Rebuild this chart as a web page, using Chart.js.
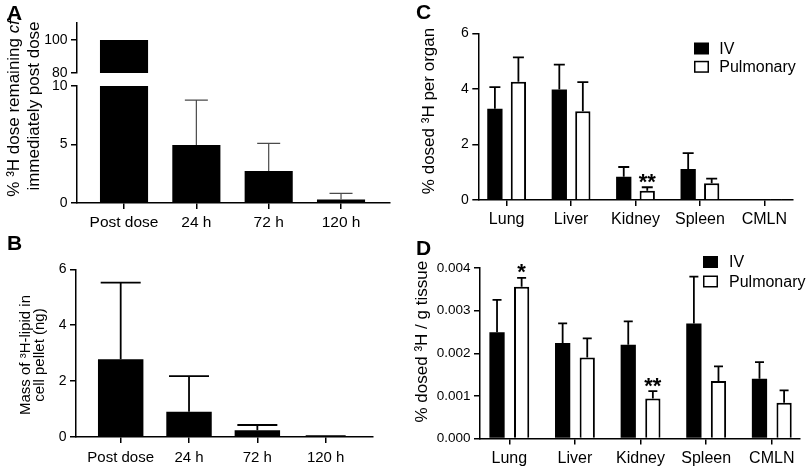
<!DOCTYPE html>
<html>
<head>
<meta charset="utf-8">
<script src="https://cdn.jsdelivr.net/npm/chart.js@4.4.0/dist/chart.umd.min.js"></script>
<style>
  html, body { margin: 0; padding: 0; background: #fff; }
  #fig { position: relative; width: 809px; height: 467px; overflow: hidden; font-family: "Liberation Sans", Arial, sans-serif; }
  #fig canvas { position: absolute; }
  .tag { position: absolute; font-weight: bold; font-size: 21px; line-height: 21px; color: #000; }
</style>
</head>
<body>
<div id="fig">
  <canvas id="chartAlower" width="400" height="230" style="left:0;top:0"></canvas>
  <canvas id="chartAupper" width="400" height="95" style="left:0;top:0"></canvas>
  <canvas id="chartB" width="400" height="237" style="left:0;top:230px"></canvas>
  <canvas id="chartC" width="409" height="230" style="left:400px;top:0"></canvas>
  <canvas id="chartD" width="409" height="237" style="left:400px;top:230px"></canvas>
  <div class="tag" style="left:7px;top:2px">A</div>
  <div class="tag" style="left:7px;top:232px">B</div>
  <div class="tag" style="left:416px;top:1px">C</div>
  <div class="tag" style="left:416px;top:237px">D</div>
</div>
<script>
// Time points (panels A and B)
const timeLabels = ['Post dose', '24 h', '72 h', '120 h'];
const doseRemaining = [100, 4.95, 2.73, 0.3];
const doseRemainingSd = [0, 3.85, 2.37, 0.53];
const lipidMass = [2.78, 0.9, 0.24, 0.01];
const lipidMassSd = [2.74, 1.28, 0.19, 0.02];

// Organs (panels C and D)
const organLabels = ['Lung', 'Liver', 'Kidney', 'Spleen', 'CMLN'];
const organIv = [3.29, 3.98, 0.84, 1.12, 0.002];
const organIvSd = [0.78, 0.9, 0.35, 0.57, 0.002];
const organPulm = [4.26, 3.2, 0.33, 0.6, 0.002];
const organPulmSd = [0.88, 1.05, 0.13, 0.17, 0.002];
const organPulmSig = ['', '', '**', '', ''];
const tissueIv = [0.00249, 0.00224, 0.0022, 0.0027, 0.0014];
const tissueIvSd = [0.00076, 0.00046, 0.00055, 0.0011, 0.00039];
const tissuePulm = [0.00356, 0.0019, 0.00094, 0.00135, 0.00084];
const tissuePulmSd = [0.00021, 0.00045, 0.00017, 0.00034, 0.00029];
const tissuePulmSig = ['*', '', '**', '', ''];

// Tick values
const ticksAupper = [80, 100];
const ticksAlower = [0, 5, 10];
const ticksB = [0, 2, 4, 6];
const ticksC = [0, 2, 4, 6];
const ticksD = [0, 0.001, 0.002, 0.003, 0.004];

const FONT = '"Liberation Sans", Arial, sans-serif';
Chart.defaults.font.family = FONT;
Chart.defaults.color = '#000';

// Turns a list of values into {x, y} points on the numeric category axis
const points = values => values.map((v, i) => ({ x: i, y: v }));

// Error bars drawn from the bar top up to mean + sd
const errorBars = (color, width, cap) => ({
  id: 'errorBars',
  afterDatasetsDraw(chart) {
    const { ctx, chartArea: area, scales: { y } } = chart;
    ctx.save();
    ctx.beginPath();
    ctx.rect(area.left, area.top - 3, area.right - area.left, area.bottom - area.top + 3);
    ctx.clip();
    ctx.strokeStyle = color;
    ctx.lineWidth = width;
    chart.data.datasets.forEach((ds, i) => {
      if (!ds.sd) return;
      chart.getDatasetMeta(i).data.forEach((bar, j) => {
        const sd = ds.sd[j];
        if (!sd) return;
        const top = y.getPixelForValue(ds.data[j].y + sd);
        ctx.beginPath();
        ctx.moveTo(bar.x, bar.y);
        ctx.lineTo(bar.x, top);
        ctx.moveTo(bar.x - cap / 2, top);
        ctx.lineTo(bar.x + cap / 2, top);
        ctx.stroke();
      });
    });
    ctx.restore();
  }
});

// Significance stars above the error bars
const sigMarks = {
  id: 'sigMarks',
  afterDatasetsDraw(chart) {
    const { ctx, scales: { y } } = chart;
    ctx.save();
    ctx.font = `bold 22px ${FONT}`;
    ctx.textAlign = 'center';
    ctx.textBaseline = 'alphabetic';
    ctx.fillStyle = '#000';
    chart.data.datasets.forEach((ds, i) => {
      if (!ds.sig) return;
      chart.getDatasetMeta(i).data.forEach((bar, j) => {
        if (!ds.sig[j]) return;
        ctx.fillText(ds.sig[j], bar.x, y.getPixelForValue(ds.data[j].y + ds.sd[j]) + 1.5);
      });
    });
    ctx.restore();
  }
};

// Legend with filled / open boxes inside the plot
const boxLegend = (x, y, rowH, textX) => ({
  id: 'boxLegend',
  afterDraw(chart) {
    const ctx = chart.ctx;
    ctx.save();
    ctx.font = `16px ${FONT}`;
    ctx.textBaseline = 'middle';
    ctx.textAlign = 'left';
    chart.data.datasets.forEach((ds, i) => {
      const cy = y + i * rowH;
      ctx.fillStyle = ds.backgroundColor;
      ctx.fillRect(x + 0.75, cy - 5.25, 13.5, 10.5);
      ctx.strokeStyle = '#000';
      ctx.lineWidth = 1.5;
      ctx.strokeRect(x + 0.75, cy - 5.25, 13.5, 10.5);
      ctx.fillStyle = '#000';
      ctx.fillText(ds.label, textX, cy + 1);
    });
    ctx.restore();
  }
});

// Rotated y axis title; parts given as {i: text} are italic
const yTitle = (lines, x, y, size, gap) => ({
  id: 'yTitle',
  afterDraw(chart) {
    const ctx = chart.ctx;
    ctx.save();
    ctx.fillStyle = '#000';
    ctx.textBaseline = 'alphabetic';
    ctx.textAlign = 'left';
    lines.forEach((parts, k) => {
      const segs = parts.map(p => typeof p === 'string'
        ? { text: p, font: `${size}px ${FONT}` }
        : { text: p.i, font: `italic ${size}px ${FONT}` });
      const widths = segs.map(s => { ctx.font = s.font; return ctx.measureText(s.text).width; });
      const total = widths.reduce((a, b) => a + b, 0);
      ctx.save();
      ctx.translate(x + k * gap, y);
      ctx.rotate(-Math.PI / 2);
      let pos = -total / 2;
      segs.forEach((s, n) => { ctx.font = s.font; ctx.fillText(s.text, pos, 0); pos += widths[n]; });
      ctx.restore();
    });
    ctx.restore();
  }
});

// Category axis built on a linear scale so the plot margins can match the figure
const xAxis = (labels, min, max, size, height, pad, show = true) => ({
  type: 'linear',
  display: show,
  min, max,
  offset: false,
  afterBuildTicks: s => { s.ticks = labels.map((_, i) => ({ value: i })); },
  afterFit: s => { s.height = height; },
  border: { display: true, color: '#000', width: 1.5 },
  grid: { display: true, offset: false, drawOnChartArea: false, drawTicks: true, tickLength: 6, color: '#000', lineWidth: 1.5 },
  ticks: { callback: v => labels[v], autoSkip: false, maxRotation: 0, padding: pad, color: '#000', font: { size } }
});

const yAxis = (ticks, min, max, size, width, fmt) => ({
  min, max,
  beginAtZero: false,
  afterBuildTicks: s => { s.ticks = ticks.map(v => ({ value: v })); },
  afterFit: s => { s.width = width; },
  border: { display: true, color: '#000', width: 1.5 },
  grid: { display: true, drawOnChartArea: false, drawTicks: true, tickLength: 6, color: '#000', lineWidth: 1.5 },
  ticks: { callback: fmt, padding: 3.5, color: '#000', font: { size } }
});

const makeChart = (id, datasets, padding, x, y, plugins, bars) => new Chart(document.getElementById(id), {
  type: 'bar',
  data: { datasets },
  options: {
    responsive: false,
    animation: false,
    events: [],
    layout: { padding },
    categoryPercentage: bars[0],
    barPercentage: bars[1],
    scales: { x, y },
    plugins: { legend: { display: false }, tooltip: { enabled: false } }
  },
  plugins
});

const solid = { backgroundColor: '#000', borderWidth: 0, clip: 0 };
const open = { backgroundColor: '#fff', borderColor: '#000', borderWidth: 2, clip: 0 };

// Panel A, upper segment of the broken axis (80 - 100)
makeChart('chartAupper',
  [{ ...solid, label: 'dose', data: points(doseRemaining) }],
  { top: 23, right: 10, bottom: 22, left: 0 },
  xAxis(timeLabels, -0.65, 3.677, 15.5, 0, 4, false),
  yAxis(ticksAupper, 80, 110.3, 14, 77, v => v),
  [], [1, 0.665]);

// Panel A, lower segment (0 - 10)
makeChart('chartAlower',
  [{ ...solid, label: 'dose', data: points(doseRemaining), sd: doseRemainingSd }],
  { top: 86, right: 10, bottom: 0, left: 0 },
  xAxis(timeLabels, -0.65, 3.677, 15.5, 27, 4),
  yAxis(ticksAlower, 0, 10, 14, 77, v => v),
  [errorBars('#4a4a4a', 1.2, 23),
   yTitle([['% \u00b3H dose remaining ', { i: 'cf.' }], ['immediately post dose']], 19, 106, 17, 20)],
  [1, 0.665]);

// Panel B
makeChart('chartB',
  [{ ...solid, label: 'mass', data: points(lipidMass), sd: lipidMassSd }],
  { top: 39.3, right: 27.3, bottom: 0, left: 0 },
  xAxis(timeLabels, -0.654, 3.688, 15, 30, 6),
  yAxis(ticksB, 0, 6, 14, 76, v => v),
  [errorBars('#000', 1.8, 40),
   yTitle([['Mass of \u00b3H-lipid in'], ['cell pellet (ng)']], 29.7, 125, 15, 14.6)],
  [1, 0.665]);

// Panel C
makeChart('chartC',
  [{ ...solid, label: 'IV', data: points(organIv), sd: organIvSd },
   { ...open, label: 'Pulmonary', data: points(organPulm), sd: organPulmSd, sig: organPulmSig }],
  { top: 33.5, right: 16.3, bottom: 0, left: 0 },
  xAxis(organLabels, -0.44, 4.44, 16, 30, 3.5),
  yAxis(ticksC, 0, 6, 14, 78.3, v => v),
  [errorBars('#000', 1.8, 11), sigMarks, boxLegend(294, 48.5, 18.3, 319.3),
   yTitle([['% dosed \u00b3H per organ']], 34, 111, 17, 0)],
  [0.73, 0.65]);

// Panel D
makeChart('chartD',
  [{ ...solid, label: 'IV', data: points(tissueIv), sd: tissueIvSd },
   { ...open, label: 'Pulmonary', data: points(tissuePulm), sd: tissuePulmSd, sig: tissuePulmSig }],
  { top: 38, right: 9, bottom: 0, left: 0 },
  xAxis(organLabels, -0.447, 4.43, 16, 28.5, 4),
  yAxis(ticksD, 0, 0.004, 13.5, 80, v => v.toFixed(3)),
  [errorBars('#000', 1.8, 9), sigMarks, boxLegend(303, 32, 19.5, 329),
   yTitle([['% dosed \u00b3H / g tissue']], 27.4, 111.7, 17, 0)],
  [0.75, 0.62]);
</script>
</body>
</html>
